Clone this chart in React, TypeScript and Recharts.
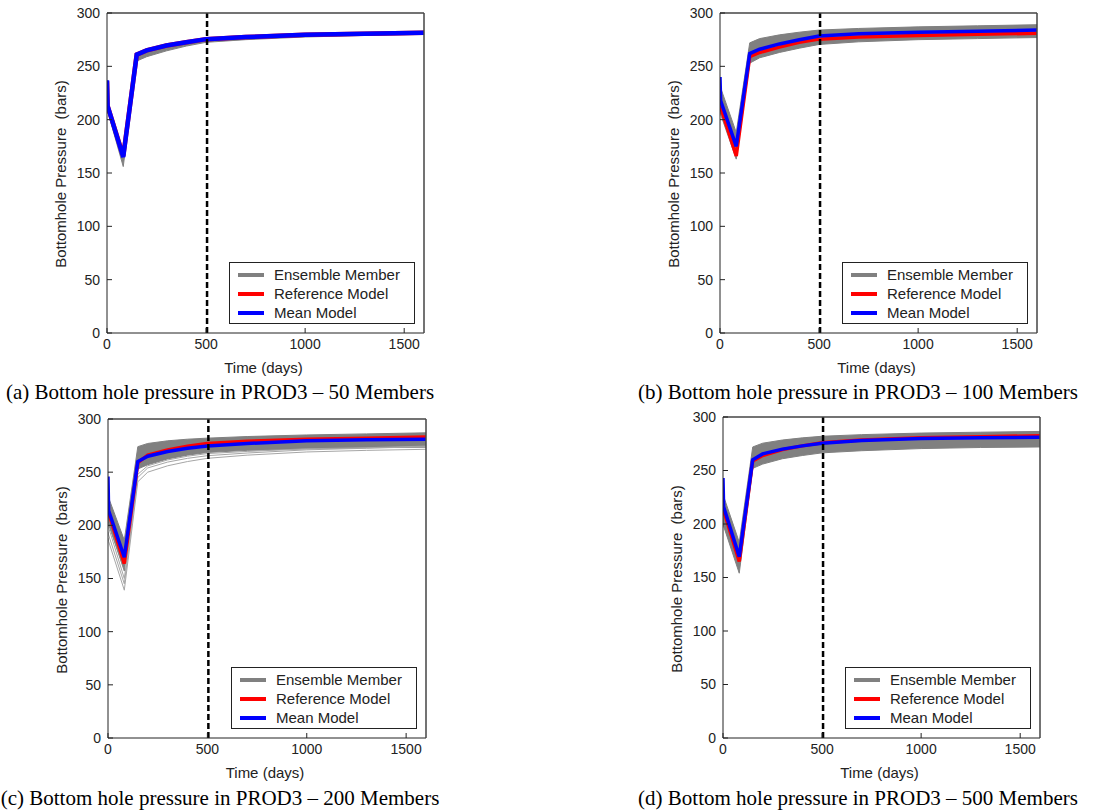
import React from 'react';
import { ComposedChart, Line, Area, XAxis, YAxis, ReferenceLine } from 'recharts';

// time axis shared by every run (days)
const DAYS = [0, 3, 82, 150, 200, 300, 400, 500, 700, 1000, 1300, 1600];
const HISTORY_END = 505; // end of history matching period
const X_TICKS = [0, 500, 1000, 1500];
const Y_TICKS = [0, 50, 100, 150, 200, 250, 300];

// (a) 50 members
const A_MEAN = [237, 213, 165, 261, 265, 269.5, 272.5, 275.5, 277.5, 279.5, 280.5, 281.5];
const A_REF = [236, 213, 166, 261, 265, 269.5, 272.5, 275.5, 277.5, 279.5, 280.5, 281.5];
const A_LOW = [232, 208, 156, 255, 259, 264.5, 269, 272.5, 275, 277.5, 279, 280];
const A_HIGH = [237, 214, 167, 262, 266, 270.5, 273.5, 276, 278, 280, 281, 282];

// (b) 100 members
const B_MEAN = [240, 218, 175, 262, 266, 271, 275, 278.5, 280.5, 282, 283, 284];
const B_REF = [215, 212, 166, 259, 263, 268, 272.5, 275.5, 277.5, 279, 280, 281];
const B_LOW = [208, 205, 163, 253, 258, 263, 267, 270.5, 273, 275, 276, 277];
const B_HIGH = [236, 230, 188, 272, 276, 279.5, 282, 284, 285.5, 287, 288, 289];

// (c) 200 members
const C_MEAN = [246, 214, 170, 260, 265, 269.5, 272.5, 274.5, 277, 279.5, 280.5, 281];
const C_REF = [214, 212, 164, 259, 266, 271, 274.5, 277, 279, 281, 282, 283];
const C_LOW = [205, 201, 157, 253, 257, 262.5, 266, 268.5, 270.5, 272, 273, 273.5];
const C_HIGH = [230, 226, 186, 274, 277, 279.5, 281, 282, 283.5, 285, 286, 287];
const C_OUT1 = [188, 185, 139, 241, 250, 256, 260, 263, 266, 269, 270.5, 271.5];
const C_OUT2 = [194, 191, 145, 245, 254, 259.5, 263, 265.5, 268, 271, 272.5, 274];
const C_OUT3 = [202, 198, 150, 248, 256, 261.5, 265, 267.5, 269.5, 272, 273, 274.5];

// (d) 500 members
const D_MEAN = [243, 216, 169.5, 260, 265.5, 270, 273, 275.5, 278, 280, 280.5, 281];
const D_REF = [214, 213, 165, 259, 264, 269.5, 273, 276, 278.5, 280.5, 281.5, 282.5];
const D_LOW = [200, 198, 154, 252, 256, 261, 264, 266.5, 268.5, 270.5, 271.5, 272];
const D_HIGH = [229, 226, 183, 272, 275.5, 278.5, 280.5, 282, 283.5, 285, 285.8, 286.5];

const SANS = '"Liberation Sans", Arial, sans-serif';
const SERIF = '"Liberation Serif", "Times New Roman", serif';

const PANELS = [
  { key: 'a', caption: '(a) Bottom hole pressure in PROD3 – 50 Members', mean: A_MEAN, ref: A_REF, low: A_LOW, high: A_HIGH, outliers: [], left: 107, top: 13, w: 317, h: 320, capX: 220, capTop: 380, lw: 4.5 },
  { key: 'b', caption: '(b) Bottom hole pressure in PROD3 – 100 Members', mean: B_MEAN, ref: B_REF, low: B_LOW, high: B_HIGH, outliers: [], left: 720, top: 13, w: 317, h: 320, capX: 858, capTop: 380, lw: 3.5 },
  { key: 'c', caption: '(c) Bottom hole pressure in PROD3 – 200 Members', mean: C_MEAN, ref: C_REF, low: C_LOW, high: C_HIGH, outliers: [C_OUT1, C_OUT2, C_OUT3], left: 108, top: 419, w: 318, h: 319, capX: 220, capTop: 786, lw: 3.5 },
  { key: 'd', caption: '(d) Bottom hole pressure in PROD3 – 500 Members', mean: D_MEAN, ref: D_REF, low: D_LOW, high: D_HIGH, outliers: [], left: 723, top: 417, w: 317, h: 321, capX: 858, capTop: 786, lw: 3.5 },
];

const LEGEND = [
  { label: 'Ensemble Member', color: '#808080' },
  { label: 'Reference Model', color: '#ff0000' },
  { label: 'Mean Model', color: '#0000ff' },
];

function Panel({ p }: { p: any }) {
  const data = DAYS.map((day, i) => {
    const row: Record<string, any> = { day, band: [p.low[i], p.high[i]], ref: p.ref[i], mean: p.mean[i] };
    p.outliers.forEach((o: number[], k: number) => {
      row['out' + k] = o[i];
    });
    return row;
  });

  const tickStyle = { fill: '#222', fontSize: 14, fontFamily: SANS };
  const axisLine = { stroke: '#222', strokeWidth: 1 };
  const frameLine = { stroke: '#444', strokeWidth: 1.5 };

  return (
    <>
      <div style={{ position: 'absolute', left: p.left - 50, top: p.top - 10 }}>
        <ComposedChart width={p.w + 60} height={p.h + 35} data={data} margin={{ top: 9, right: 9, bottom: 0, left: 10 }}>
          <XAxis xAxisId="b" dataKey="day" type="number" domain={[0, 1600]} ticks={X_TICKS} height={25}
            tickSize={-5} tickMargin={11} tick={tickStyle} axisLine={axisLine} tickLine={axisLine} allowDataOverflow />
          <XAxis xAxisId="t" orientation="top" dataKey="day" type="number" domain={[0, 1600]} ticks={X_TICKS} height={1}
            tickSize={-5} tick={false} axisLine={frameLine} tickLine={axisLine} allowDataOverflow />
          <YAxis yAxisId="l" type="number" domain={[0, 300]} ticks={Y_TICKS} width={40}
            tickSize={-5} tickMargin={12} tick={tickStyle} axisLine={axisLine} tickLine={axisLine} allowDataOverflow />
          <YAxis yAxisId="r" orientation="right" type="number" domain={[0, 300]} ticks={Y_TICKS} width={1}
            tickSize={-5} tick={false} axisLine={frameLine} tickLine={axisLine} allowDataOverflow />

          <Area xAxisId="b" yAxisId="l" type="linear" dataKey="band" stroke="#808080" strokeWidth={1}
            fill="#808080" fillOpacity={1} isAnimationActive={false} />
          {p.outliers.map((_: any, k: number) => (
            <Line key={k} xAxisId="b" yAxisId="l" type="linear" dataKey={'out' + k} stroke="#a6a6a6"
              strokeWidth={1} dot={false} isAnimationActive={false} />
          ))}
          <Line xAxisId="b" yAxisId="l" type="linear" dataKey="ref" stroke="#ff0000" strokeWidth={p.lw}
            dot={false} isAnimationActive={false} />
          <Line xAxisId="b" yAxisId="l" type="linear" dataKey="mean" stroke="#0000ff" strokeWidth={p.lw}
            dot={false} isAnimationActive={false} />
          <ReferenceLine xAxisId="b" yAxisId="l" x={HISTORY_END} stroke="#000" strokeWidth={2.5} strokeDasharray="6 3" />
        </ComposedChart>
      </div>

      {/* axis titles */}
      <div style={{
        position: 'absolute', left: p.left - 47, top: p.top + p.h / 2 + 1, transform: 'translate(-50%, -50%) rotate(-90deg)',
        whiteSpace: 'pre', fontFamily: SANS, fontSize: 15, color: '#222',
      }}>
        {'Bottomhole Pressure  (bars)'}
      </div>
      <div style={{
        position: 'absolute', left: p.left + p.w / 2 - 2, top: p.top + p.h + 34, transform: 'translate(-50%, -50%)',
        whiteSpace: 'nowrap', fontFamily: SANS, fontSize: 15, color: '#222',
      }}>
        Time (days)
      </div>

      {/* legend box */}
      <div style={{
        position: 'absolute', left: p.left + p.w - 9 - 186, top: p.top + p.h - 9 - 62, width: 184, height: 60,
        border: '1px solid #222', background: '#fff',
      }}>
        {LEGEND.map((item, i) => (
          <div key={item.label} style={{ position: 'absolute', left: 0, top: 2 + i * 19, height: 19, width: 184 }}>
            <div style={{ position: 'absolute', left: 8, top: 8, width: 26, height: 4, background: item.color }} />
            <div style={{ position: 'absolute', left: 44, top: 0, lineHeight: '19px', fontFamily: SANS, fontSize: 15, color: '#222', whiteSpace: 'nowrap' }}>
              {item.label}
            </div>
          </div>
        ))}
      </div>

      {/* caption */}
      <div style={{
        position: 'absolute', left: p.capX, top: p.capTop, transform: 'translateX(-50%)', whiteSpace: 'nowrap',
        fontFamily: SERIF, fontSize: 21, lineHeight: '24px', color: '#000',
      }}>
        {p.caption}
      </div>
    </>
  );
}

export default function App() {
  return (
    <div style={{ position: 'absolute', left: 0, top: 0, width: 1115, height: 811, background: '#fff', overflow: 'hidden' }}>
      {PANELS.map((p) => (
        <Panel key={p.key} p={p} />
      ))}
    </div>
  );
}
